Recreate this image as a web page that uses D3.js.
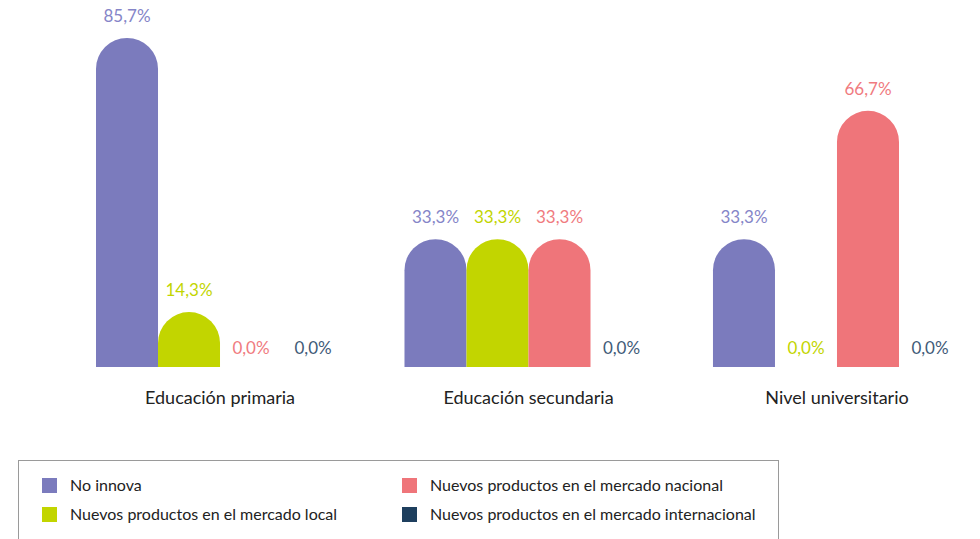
<!DOCTYPE html>
<html><head><meta charset="utf-8">
<script src="https://cdn.jsdelivr.net/npm/d3@7"></script>
<style>body{margin:0;background:#fff}svg{display:block}text{font-family:Lato,"Open Sans",sans-serif}</style>
</head><body><svg id="c" width="980" height="539"></svg>
<script>
const categories = ["Educación primaria", "Educación secundaria", "Nivel universitario"];
const series = ["No innova", "Nuevos productos en el mercado local", "Nuevos productos en el mercado nacional", "Nuevos productos en el mercado internacional"];
const noInnova = [85.7, 33.3, 33.3];
const mercadoLocal = [14.3, 33.3, 0.0];
const mercadoNacional = [0.0, 33.3, 66.7];
const mercadoInternacional = [0.0, 0.0, 0.0];
const colors = ["#7b7bbd", "#c2d500", "#ef757a", "#1e3f5e"];
const labelColors = ["#8585c8", "#c2d500", "#f07b80", "#3f5b78"];

const values = [noInnova, mercadoLocal, mercadoNacional, mercadoInternacional];
const svg = d3.select("#c");
const x0 = d3.scaleBand().domain(categories).range([96, 961]).paddingInner(0.196).paddingOuter(0);
const x1 = d3.scaleBand().domain(series).range([0, x0.bandwidth()]);
const y = d3.scaleLinear().domain([0, 100]).range([367, -17]);

const data = [];
categories.forEach((c, i) => series.forEach((s, j) => data.push({c, s, j, v: values[j][i]})));

function barPath(d) {
  const xl = x0(d.c) + x1(d.s), w = x1.bandwidth(), r = w / 2;
  const yb = y(0), yt = y(d.v);
  if (d.v <= 0) return "";
  const h = yb - yt;
  const rr = Math.min(r, h);
  return `M${xl},${yb}L${xl},${yt + rr}A${r},${rr} 0 0 1 ${xl + w},${yt + rr}L${xl + w},${yb}Z`;
}

svg.append("g").selectAll("path").data(data).join("path")
  .attr("d", barPath).attr("fill", d => colors[d.j]);

svg.append("g").selectAll("text").data(data).join("text")
  .attr("x", d => x0(d.c) + x1(d.s) + x1.bandwidth() / 2)
  .attr("y", d => y(d.v) - (d.v > 0 ? 16 : 13))
  .attr("text-anchor", "middle")
  .attr("font-size", 17)
  .attr("fill", d => labelColors[d.j])
  .text(d => d.v.toFixed(1).replace(".", ",") + "%");

const ax = svg.append("g").attr("transform", `translate(0,${y(0)})`)
  .call(d3.axisBottom(x0).tickSize(0).tickPadding(24));
ax.select(".domain").remove();
ax.selectAll("text").attr("font-size", 18).attr("fill", "#222").style("font-family", "Lato,'Open Sans',sans-serif");

// legend
const lg = svg.append("g");
lg.append("rect").attr("x", 18.5).attr("y", 460.5).attr("width", 760).attr("height", 90)
  .attr("fill", "#fff").attr("stroke", "#9a9a9a").attr("stroke-width", 1);
const legX = [42, 402], legY = [478, 507];
const legOrder = [[0, 0, 0], [1, 0, 1], [2, 1, 0], [3, 1, 1]];
legOrder.forEach(([j, col, row]) => {
  lg.append("rect").attr("x", legX[col]).attr("y", legY[row]).attr("width", 15).attr("height", 15).attr("fill", colors[j]);
  lg.append("text").attr("x", legX[col] + 28).attr("y", legY[row] + 13).attr("font-size", 16).attr("fill", "#222").text(series[j]);
});
</script></body></html>
